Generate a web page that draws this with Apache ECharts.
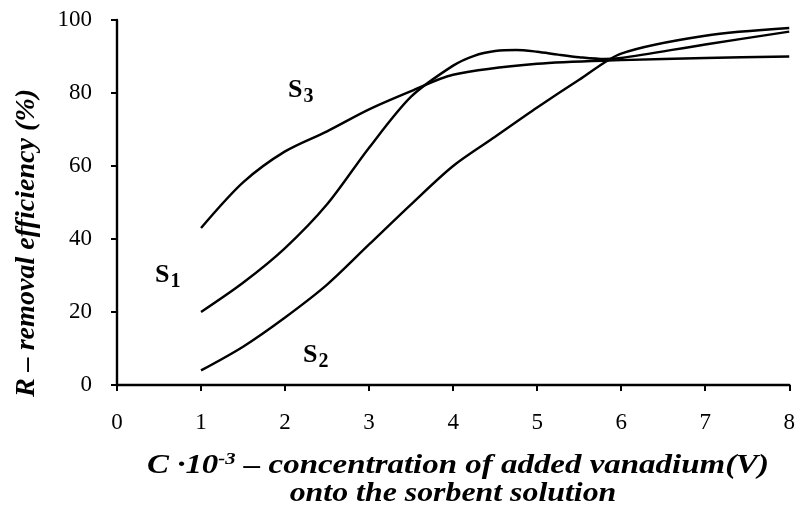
<!DOCTYPE html>
<html>
<head>
<meta charset="utf-8">
<script src="https://cdn.jsdelivr.net/npm/echarts@6/dist/echarts.min.js"></script>
<style>
  html, body {margin: 0; padding: 0; background: #fff;}
  #chart {width: 798px; height: 509px;}
</style>
</head>
<body>
<div id="chart"></div>
<script>
// concentration C·10^-3 vs removal efficiency R (%)
const xTicks = [0, 1, 2, 3, 4, 5, 6, 7, 8]
const yTicks = [0, 20, 40, 60, 80, 100]

const s1 = [[1, 20], [1.5, 28], [2, 37.5], [2.5, 49.5], [3, 65], [3.5, 79], [4, 87.5], [4.25, 90.2], [4.5, 91.5], [4.75, 91.8], [5, 91.3], [5.25, 90.5], [5.5, 89.8], [5.8, 89.3], [6, 89.6], [7, 93.3], [8, 96.8]]
const s2 = [[1, 4], [1.5, 10.5], [2, 18.5], [2.5, 27.5], [3, 38.5], [3.5, 49.5], [4, 60], [4.5, 68], [5, 76], [5.5, 83.6], [6, 90.8], [7, 95.7], [8, 97.8]]
const s3 = [[1, 43], [1.5, 55.5], [2, 64], [2.5, 69.5], [3, 75.5], [3.5, 80.5], [4, 85], [5, 88], [6, 89], [7, 89.6], [8, 90]]

const serif = '"Liberation Serif", "DejaVu Serif", serif'

const chart = echarts.init(document.getElementById('chart'))

function line(name, data) {
  return {
    name,
    type: 'line',
    data,
    smooth: 0.3,
    symbol: 'none',
    lineStyle: {color: '#000', width: 2.4},
    silent: true
  }
}

// S with subscript, x/y = left & top of the text box
function seriesLabel(main, sub, x, y) {
  return {
    type: 'text',
    x: x,
    y: y,
    style: {
      text: '{m|' + main + '}{s|' + sub + '}',
      verticalAlign: 'top',
      rich: {
        m: {fontFamily: serif, fontWeight: 'bold', fontSize: 26, fill: '#000', height: 28},
        s: {fontFamily: serif, fontWeight: 'bold', fontSize: 20, fill: '#000', padding: [14, 0, 0, 1], height: 28}
      }
    }
  }
}

chart.setOption({
  animation: false,
  backgroundColor: '#fff',
  grid: {left: 117, right: 3, top: 20, bottom: 124},
  xAxis: {
    type: 'value',
    min: xTicks[0],
    max: xTicks[xTicks.length - 1],
    interval: 1,
    axisLine: {lineStyle: {color: '#000', width: 2.4}},
    axisTick: {show: true, inside: false, length: 6, lineStyle: {color: '#000', width: 2}},
    axisLabel: {color: '#000', fontFamily: serif, fontSize: 23, margin: 26},
    splitLine: {show: false}
  },
  yAxis: {
    type: 'value',
    min: yTicks[0],
    max: yTicks[yTicks.length - 1],
    interval: 20,
    axisLine: {show: true, lineStyle: {color: '#000', width: 2.4}},
    axisTick: {show: true, inside: false, length: 6, lineStyle: {color: '#000', width: 2}},
    axisLabel: {color: '#000', fontFamily: serif, fontSize: 23, margin: 25},
    splitLine: {show: false}
  },
  series: [line('S1', s1), line('S2', s2), line('S3', s3)],
  graphic: [
    {
      type: 'text',
      x: 27,
      y: 243,
      rotation: Math.PI / 2,
      scaleX: 1.04,
      style: {
        text: 'R – removal efficiency (%)',
        fontFamily: serif,
        fontStyle: 'italic',
        fontWeight: 'bold',
        fontSize: 27,
        fill: '#000',
        align: 'center',
        verticalAlign: 'middle'
      }
    },
    {
      type: 'text',
      x: 458,
      y: 466,
      scaleX: 1.22,
      style: {
        text: '{t|C ·10}{sup|-3}{t| – concentration of added vanadium(V)}',
        align: 'center',
        verticalAlign: 'middle',
        rich: {
          t: {fontFamily: serif, fontStyle: 'italic', fontWeight: 'bold', fontSize: 27, fill: '#000'},
          sup: {fontFamily: serif, fontStyle: 'italic', fontWeight: 'bold', fontSize: 17, fill: '#000', padding: [0, 0, 12, 0]}
        }
      }
    },
    {
      type: 'text',
      x: 453,
      y: 494,
      scaleX: 1.18,
      style: {
        text: 'onto the sorbent solution',
        fontFamily: serif,
        fontStyle: 'italic',
        fontWeight: 'bold',
        fontSize: 27,
        fill: '#000',
        align: 'center',
        verticalAlign: 'middle'
      }
    },
    seriesLabel('S', '3', 288, 69),
    seriesLabel('S', '1', 155, 254),
    seriesLabel('S', '2', 303, 334)
  ]
})
</script>
</body>
</html>
